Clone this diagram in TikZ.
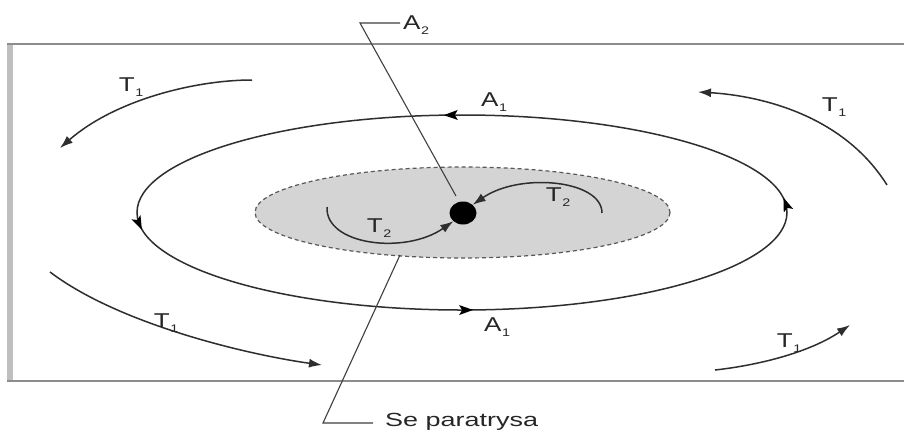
\documentclass[tikz,border=0pt]{standalone}
\usepackage{fontspec}
\setmainfont{Liberation Sans}
\usetikzlibrary{arrows.meta,decorations.markings,shapes.geometric}
\newcommand\stlbl[2]{\scalebox{1.3}[1]{#1\kern0.5pt\raisebox{-4.5pt}{\fontsize{11}{11}\selectfont #2}}}
\begin{document}
\begin{tikzpicture}[x=1pt,y=-1pt,
  line/.style={draw=black!82, line width=1.5pt},
  arr/.style={line, -{Latex[length=13pt,width=9pt]}},
  leader/.style={draw=black!75, line width=1.1pt},
  lbl/.style={font=\fontsize{20}{20}\selectfont, inner sep=0pt, text=black!85},
  frame/.style={draw=black!45, line width=1.8pt},
]
\useasboundingbox (0,0) rectangle (904,432);
\fill[white] (0,0) rectangle (904,432);
% frame
\fill[black!25] (7,44) rectangle (13,381);
\draw[frame] (7,44) -- (904,44);
\draw[frame] (7,381) -- (904,381);
% inner gray region
\filldraw[fill=black!17, draw=black!65, line width=1.2pt, dash pattern=on 4pt off 3pt]
  (462.5,212.5) ellipse [x radius=207.5, y radius=45.5];
% outer ellipse with arrows (top leftwards, left downwards, bottom rightwards, right upwards)
\draw[line, postaction={decorate}, decoration={markings,
    mark=at position 0.245 with {\fill[black] (-4pt,0) -- (10pt,5pt) -- (7pt,0) -- (10pt,-5pt) -- cycle;},
    mark=at position 0.49 with {\fill[black] (-4pt,0) -- (10pt,5pt) -- (7pt,0) -- (10pt,-5pt) -- cycle;},
    mark=at position 0.74 with {\fill[black] (-4pt,0) -- (10pt,5pt) -- (7pt,0) -- (10pt,-5pt) -- cycle;},
    mark=at position 0.992 with {\fill[black] (-4pt,0) -- (10pt,5pt) -- (7pt,0) -- (10pt,-5pt) -- cycle;}}]
  (462,212.5) ellipse [x radius=325, y radius=97.5];
% central point
\node (dot) [fill=black, ellipse, minimum width=27pt, minimum height=23pt, inner sep=0pt] at (463,213) {};
% T2 arcs
\coordinate (t2ls) at (327,207);
\coordinate (t2rs) at (602,213);
\draw[arr] (t2ls) .. controls (325,245) and (405,255) .. (dot.south west);
\draw[arr] (t2rs) .. controls (602,180) and (520,172) .. (dot.north east);
\node[lbl] (t2l) at (379,228) {\stlbl{T}{2}};
\node[lbl] (t2r) at (558,197) {\stlbl{T}{2}};
% T1 arrows
\coordinate (tl1) at (252,80);  \coordinate (tl2) at (60,148);
\coordinate (tr1) at (887,185); \coordinate (tr2) at (698,92);
\coordinate (bl1) at (50,272);  \coordinate (bl2) at (322,365);
\coordinate (br1) at (715,370); \coordinate (br2) at (850,325);
\draw[arr] (tl1) .. controls (195,80) and (115,100) .. (tl2);
\draw[arr] (tr1) .. controls (840,110) and (750,95) .. (tr2);
\draw[arr] (bl1) .. controls (120,325) and (250,355) .. (bl2);
\draw[arr] (br1) .. controls (760,365) and (810,352) .. (br2);
\node[lbl] (ltl) at (131,87) {\stlbl{T}{1}};
\node[lbl] (ltr) at (834,107) {\stlbl{T}{1}};
\node[lbl] (lbl1) at (166,323) {\stlbl{T}{1}};
\node[lbl] (lbr) at (789,343) {\stlbl{T}{1}};
% A1 labels
\node[lbl] (a1t) at (494,102) {\stlbl{A}{1}};
\node[lbl] (a1b) at (497,327) {\stlbl{A}{1}};
% A2 leader
\node[lbl, anchor=west] (a2) at (403,25) {\stlbl{A}{2}};
\coordinate (a2c) at (360,23);
\coordinate (a2e) at (456,196);
\draw[leader] ([xshift=-3pt]a2.west |- a2c) -- (a2c) -- (a2e);
% Separatrix leader
\node[lbl, anchor=west] (sep) at (385,422) {\fontsize{19}{19}\selectfont\scalebox{1.42}[1]{Se paratrysa}};
\coordinate (sepc) at (323,423);
\coordinate (seps) at (400,255);
\draw[leader] (seps) -- (sepc) -- ([xshift=-12pt]sep.west |- sepc);
\end{tikzpicture}
\end{document}
